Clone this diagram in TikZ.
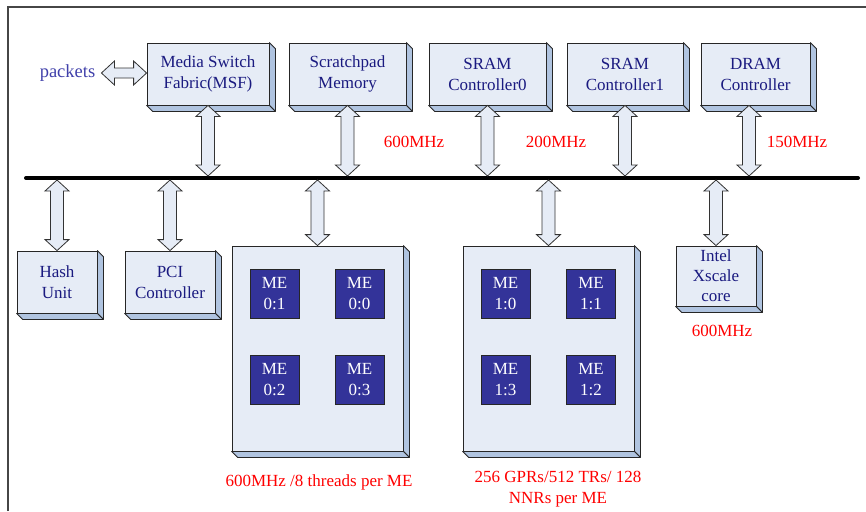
\documentclass[tikz,border=0pt]{standalone}
\usepackage{fontspec}
\setmainfont{Liberation Serif}
\usetikzlibrary{calc}
\definecolor{boxfill}{RGB}{230,236,246}
\definecolor{boxside}{RGB}{176,196,224}
\definecolor{navytext}{RGB}{26,26,128}
\definecolor{mefill}{RGB}{51,51,153}
\definecolor{pkttext}{RGB}{64,64,170}
\definecolor{framegray}{RGB}{70,70,70}
\tikzset{
 unit/.style={draw=black!85, line width=0.8pt, fill=boxfill, text=navytext, inner sep=0pt, align=center, font=\fontsize{17}{21}\selectfont},
 mebox/.style={draw=black!85, line width=0.8pt, fill=mefill, text=white, minimum width=49pt, minimum height=49pt, inner sep=0pt, align=center, font=\fontsize{17}{21}\selectfont},
 sideface/.style={draw=black!85, line width=0.8pt, fill=boxside, line join=round},
 blockarrow/.style={draw=black!80, line width=0.8pt, fill=boxfill, line join=miter},
 redlabel/.style={text=red, font=\fontsize{17}{21}\selectfont, align=center, inner sep=0pt},
 pktlabel/.style={text=pkttext, font=\fontsize{18.5}{22}\selectfont, inner sep=0pt},
 busline/.style={line width=4pt, line cap=round},
}
\newcommand\depthfaces[1]{%
 \draw[sideface] (#1.north east) -- ++(6pt,-6pt) -- ($(#1.south east)+(6pt,-6pt)$) -- (#1.south east) -- cycle;
 \draw[sideface] (#1.south west) -- ++(6pt,-6pt) -- ($(#1.south east)+(6pt,-6pt)$) -- (#1.south east) -- cycle;}
\newcommand\vblockarrow[2]{%
 \draw[blockarrow] let \p1=(#1), \p2=(#2) in
 (\x1,\y1) -- (\x1+12pt,\y1-11pt) -- (\x1+6.5pt,\y1-11pt) -- (\x1+6.5pt,\y2+11pt) -- (\x1+12pt,\y2+11pt) -- (\x1,\y2) -- (\x1-12pt,\y2+11pt) -- (\x1-6.5pt,\y2+11pt) -- (\x1-6.5pt,\y1-11pt) -- (\x1-12pt,\y1-11pt) -- cycle;}
\newcommand\hblockarrow[2]{%
 \draw[blockarrow] let \p1=(#1), \p2=(#2) in
 (\x1,\y1) -- (\x1+13pt,\y1+12pt) -- (\x1+13pt,\y1+5pt) -- (\x2-13pt,\y1+5pt) -- (\x2-13pt,\y1+12pt) -- (\x2,\y1) -- (\x2-13pt,\y1-12pt) -- (\x2-13pt,\y1-5pt) -- (\x1+13pt,\y1-5pt) -- (\x1+13pt,\y1-12pt) -- cycle;}
\begin{document}
\begin{tikzpicture}[x=1pt,y=-1pt]
\useasboundingbox (0,0) rectangle (866,511);
% outer frame
\draw[framegray, line width=1.2pt] (8,511) -- (8,7) -- (866,7);
% top units
\node[unit, minimum width=122pt, minimum height=62pt] (msf) at (208,74) {Media Switch\\Fabric(MSF)};
\node[unit, minimum width=117pt, minimum height=62pt] (scratch) at (347.5,74) {Scratchpad\\Memory};
\node[unit, minimum width=117pt, minimum height=62pt] (sram0) at (487.5,74) {SRAM\\Controller0};
\node[unit, minimum width=116pt, minimum height=62pt] (sram1) at (625,74) {SRAM\\Controller1};
\node[unit, minimum width=109pt, minimum height=62pt] (dram) at (755.5,74) {DRAM\\Controller};
% bottom units
\node[unit, minimum width=80pt, minimum height=62pt] (hash) at (57,282) {Hash\\Unit};
\node[unit, minimum width=90pt, minimum height=62pt] (pci) at (170,282) {PCI\\Controller};
\node[unit, minimum width=171pt, minimum height=205pt] (grp0) at (317.5,348.5) {};
\node[unit, minimum width=171pt, minimum height=205pt] (grp1) at (548.5,348.5) {};
\node[unit, minimum width=80pt, minimum height=60pt, font=\fontsize{17}{20}\selectfont] (xscale) at (716,276) {Intel\\Xscale\\core};
\foreach \n in {msf,scratch,sram0,sram1,dram,hash,pci,grp0,grp1,xscale}{\depthfaces{\n}}
% microengines
\node[mebox] (me01) at (274.5,293.5) {ME\\0:1};
\node[mebox] (me00) at (359.5,293.5) {ME\\0:0};
\node[mebox] (me02) at (274.5,379.5) {ME\\0:2};
\node[mebox] (me03) at (359.5,379.5) {ME\\0:3};
\node[mebox] (me10) at (505.5,293.5) {ME\\1:0};
\node[mebox] (me11) at (591,293.5) {ME\\1:1};
\node[mebox] (me13) at (505.5,379.5) {ME\\1:3};
\node[mebox] (me12) at (591,379.5) {ME\\1:2};
% bus
\coordinate (busL) at (26,178);
\coordinate (busR) at (858,178);
\coordinate (busT) at (0,176);
\coordinate (busB) at (0,180);
\draw[busline] (busL) -- (busR);
% packets
\node[pktlabel] (pkt) at (67.5,73) {packets};
\coordinate (pktA) at ([xshift=6pt]pkt.east);
\hblockarrow{pktA}{msf.west}
% top arrows
\vblockarrow{msf.south}{msf.south |- busT}
\vblockarrow{scratch.south}{scratch.south |- busT}
\vblockarrow{sram0.south}{sram0.south |- busT}
\vblockarrow{sram1.south}{sram1.south |- busT}
\coordinate (dramA) at ([xshift=-6.5pt]dram.south);
\vblockarrow{dramA}{dramA |- busT}
% bottom arrows
\vblockarrow{hash.north |- busB}{hash.north}
\vblockarrow{pci.north |- busB}{pci.north}
\vblockarrow{grp0.north |- busB}{grp0.north}
\vblockarrow{grp1.north |- busB}{grp1.north}
\vblockarrow{xscale.north |- busB}{xscale.north}
% labels
\node[redlabel] (f600) at (414,142) {600MHz};
\node[redlabel] (f200) at (556,142) {200MHz};
\node[redlabel] (f150) at (797,142) {150MHz};
\node[redlabel] (fx) at (722,331) {600MHz};
\node[redlabel] (fme0) at (319,482) {600MHz /8 threads per ME};
\node[redlabel] (fme1) at (558,489) {256 GPRs/512 TRs/ 128\\NNRs per ME};
\end{tikzpicture}
\end{document}
